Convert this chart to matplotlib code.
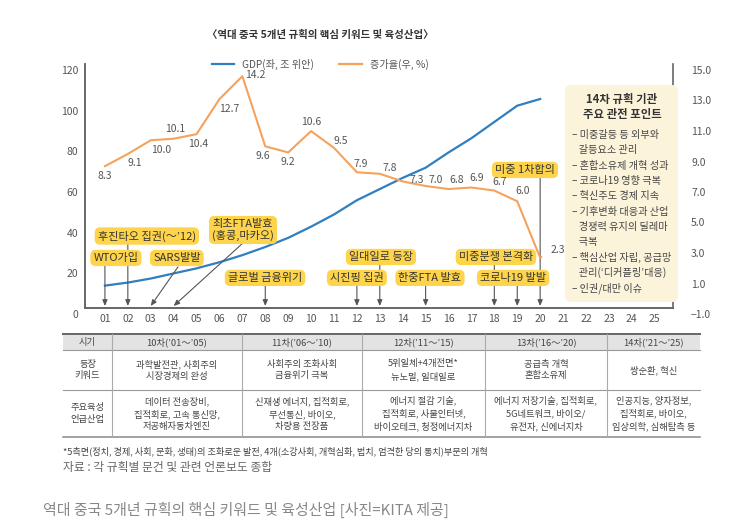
import matplotlib.pyplot as plt
import matplotlib.transforms as mtransforms
from matplotlib.patches import FancyBboxPatch, Rectangle
from matplotlib.lines import Line2D

plt.rcParams['font.family'] = ['Noto Sans CJK KR', 'DejaVu Sans']

# --- data ---
years = list(range(1, 26))
year_labels = ['%02d' % y for y in years]

gdp_years = list(range(1, 21))
gdp = [11.0, 12.5, 14.5, 17.0, 19.5, 22.5, 26.0, 30.0, 34.5, 40.0,
       46.0, 53.0, 58.5, 64.0, 69.0, 76.5, 83.5, 91.5, 99.5, 102.8]
growth = [8.3, 9.1, 10.0, 10.1, 10.4, 12.7, 14.2, 9.6, 9.2, 10.6,
          9.5, 7.9, 7.8, 7.3, 7.0, 6.8, 6.9, 6.7, 6.0, 2.3]

events = ['WTO가입', '후진타오 집권(～’12)', 'SARS발발', '최초FTA발효\n(홍콩,마카오)',
          '글로벌 금융위기', '시진핑 집권', '일대일로 등장', '한중FTA 발효',
          '미중분쟁 본격화', '코로나19 발발', '미중 1차합의']
event_years = [1, 2, 3, 4, 8, 12, 13, 15, 18, 19, 20]

box_title = '14차 규획 기관\n주요 관전 포인트'
box_lines = ['– 미중갈등 등 외부와', '   갈등요소 관리', '– 혼합소유제 개혁 성과', '– 코로나19 영향 극복',
             '– 혁신주도 경제 지속', '– 기후변화 대응과 산업', '   경쟁력 유지의 딜레마', '   극복',
             '– 핵심산업 자립, 공급망', '   관리(‘디커플링’대응)', '– 인권/대만 이슈']

table_header = ['시기', '10차(’01～’05)', '11차(’06～’10)', '12차(’11～’15)', '13차(’16～’20)', '14차(’21～’25)']
table_keywords = ['등장\n키워드', '과학발전관, 사회주의\n시장경제의 완성', '사회주의 조화사회\n금융위기 극복',
                  '5위일체+4개전면*\n뉴노멀, 일대일로', '공급측 개혁\n혼합소유제', '쌍순환, 혁신']
table_industry = ['주요육성\n언급산업', '데이터 전송장비,\n집적회로, 고속 통신망,\n저공해자동차엔진',
                  '신재생 에너지, 집적회로,\n무선통신, 바이오,\n차량용 전장품',
                  '에너지 절감 기술,\n집적회로, 사물인터넷,\n바이오테크, 청정에너지차',
                  '에너지 저장기술, 집적회로,\n5G네트워크, 바이오/\n유전자, 신에너지차',
                  '인공지능, 양자정보,\n집적회로, 바이오,\n임상의학, 심해탐측 등']

# --- layout (pixels in a 743x530 figure) ---
W, H = 743, 530
blue = '#2F7FC1'
orange = '#F5A25D'
yellow = '#FDD44B'
grey = '#555555'

# box centres and arrow starts, in (year index, GDP axis value)
box_pos = [(1.48, 24.6), (2.83, 35.4), (4.14, 24.6), (7.03, 38.4), (7.99, 14.8), (12.0, 14.8),
           (13.05, 25.1), (15.19, 14.8), (18.07, 25.1), (18.82, 14.8), (19.34, 67.9)]
arrow_from = [(1, 20.7), (2, 32), (4.19, 20.2), (6.98, 31.5), (8, 10.8), (12, 10.8),
              (13, 21.6), (15, 10.8), (18, 21.6), (19, 10.8), (20, 64.4)]
label_off = [(0, -10), (7, -9), (10, -10), (1, 10), (2, -10), (10, -10), (13, 1), (-2, -10),
             (0, -10), (0, 9), (7, 7), (4, 8), (10, 6), (14, 1), (10, 6), (8, 9), (5, 10), (5, 9), (5, 10)]

fig = plt.figure(figsize=(W / 100, H / 100), dpi=100)
ax = fig.add_axes([85 / W, 1 - 308 / H, (673 - 85) / W, (308 - 64) / H])
ax2 = ax.twinx()

ax.set_xlim(0.13, 25.8)
ax.set_ylim(0, 120)
ax2.set_ylim(-1, 15)
ax.set_yticks(range(0, 121, 20))
ax2.set_yticks(range(-1, 16, 2))
ax2.set_yticklabels(['%.1f' % v if v >= 0 else '−%.1f' % -v for v in range(-1, 16, 2)])
ax.set_xticks(years)
ax.set_xticklabels(year_labels)

for a in (ax, ax2):
    for s in a.spines.values():
        s.set_color('#666')
        s.set_linewidth(1.2)
    a.spines['top'].set_visible(False)
    a.tick_params(length=0, labelsize=7.5, labelcolor='#555')
ax.spines['right'].set_visible(False)
ax.tick_params(axis='y', pad=5)
ax.tick_params(axis='x', pad=4)
ax2.tick_params(axis='y', pad=13)
shift = mtransforms.ScaledTranslation(0, -0.06, fig.dpi_scale_trans)
for lab in ax.get_yticklabels() + ax2.get_yticklabels():
    lab.set_transform(lab.get_transform() + shift)

ax.plot(gdp_years, gdp, color=blue, lw=1.6, zorder=3)
ax2.plot(gdp_years, growth, color=orange, lw=1.5, zorder=3)

for i, v in enumerate(growth[:-1]):
    ax2.annotate('%.1f' % v, (gdp_years[i], v), xytext=label_off[i], textcoords='offset pixels',
                 ha='center', va='center', fontsize=7.5, color='#555')
ax2.annotate('%.1f' % growth[-1], (gdp_years[-1], growth[-1]), xytext=(18, 8), textcoords='offset pixels',
             ha='center', va='center', fontsize=7.5, color='#555',
             arrowprops=dict(arrowstyle='-', ls=':', color='#777', lw=0.8, shrinkA=5, shrinkB=1))

# event boxes with arrows to the year axis
for name, yr, (bx, by), (sx, sy) in zip(events, event_years, box_pos, arrow_from):
    ax.annotate('', xy=(yr, 1.0), xytext=(sx, sy),
                arrowprops=dict(arrowstyle='-|>,head_length=0.35,head_width=0.15', color=grey,
                                lw=0.8, shrinkA=0, shrinkB=0), zorder=4)
    ax.text(bx, by, name, ha='center', va='center', fontsize=8, color='#333', linespacing=1.1,
            zorder=5, bbox=dict(boxstyle='round,pad=0.28,rounding_size=0.5', fc=yellow, ec='none'))

handles = [Line2D([], [], color=blue, lw=1.6), Line2D([], [], color=orange, lw=1.6)]
ax2.legend(handles, ['GDP(좌, 조 위안)', '증가율(우, %)'], loc='center', ncol=2, frameon=False,
           fontsize=7.3, handlelength=2.2, columnspacing=2.5, labelcolor='#555',
           bbox_to_anchor=(320 / W, 1 - 64 / H), bbox_transform=fig.transFigure)

# overlay in figure pixels: title, side box, table, notes
lay = fig.add_axes([0, 0, 1, 1])
lay.set_xlim(0, W)
lay.set_ylim(H, 0)
lay.axis('off')

lay.text(320, 35, '〈역대 중국 5개년 규획의 핵심 키워드 및 육성산업〉', ha='center', va='center',
         fontsize=7.5, fontweight='bold', color='#333')

lay.add_patch(FancyBboxPatch((565, 85), 113, 217, boxstyle='round,pad=0,rounding_size=6',
                             fc='#FCF3DB', ec='none'))
lay.text(622, 107, box_title, ha='center', va='center', fontsize=8.2, fontweight='bold',
         color='#333', linespacing=1.2)
for i, line in enumerate(box_lines):
    lay.text(572, 135 + i * 15.3, line, ha='left', va='center', fontsize=7.3, color='#444')

cols = [63, 112, 242, 362, 485, 607, 700]
rows = [334, 350, 390, 437]
lay.add_patch(Rectangle((cols[0], rows[0]), cols[-1] - cols[0], rows[1] - rows[0], fc='#E3E3E3', ec='none'))
lay.plot([cols[0], cols[-1]], [rows[0], rows[0]], color='#666', lw=1.4)
lay.plot([cols[0], cols[-1]], [rows[1], rows[1]], color='#999', lw=0.8)
lay.plot([cols[0], cols[-1]], [rows[2], rows[2]], color='#999', lw=0.8)
lay.plot([cols[0], cols[-1]], [rows[3], rows[3]], color='#888', lw=1.1)
for c in cols[1:-1]:
    lay.plot([c, c], [rows[0], rows[3]], color='#AAA', lw=0.8)
for r, cells in enumerate([table_header, table_keywords, table_industry]):
    yc = (rows[r] + rows[r + 1]) / 2
    for c, txt in enumerate(cells):
        xc = (cols[c] + cols[c + 1]) / 2
        lay.text(xc, yc, txt, ha='center', va='center', fontsize=6.7, color='#444', linespacing=1.4)

lay.text(63, 451, '*5측면(정치, 경제, 사회, 문화, 생태)의 조화로운 발전, 4개(소강사회, 개혁심화, 법치, 엄격한 당의 통치)부문의 개혁',
         ha='left', va='center', fontsize=6.6, color='#444')
lay.text(63, 468, '자료 : 각 규획별 문건 및 관련 언론보도 종합', ha='left', va='center', fontsize=8.5, color='#666')
lay.text(43, 510, '역대 중국 5개년 규획의 핵심 키워드 및 육성산업 [사진=KITA 제공]', ha='left', va='center',
         fontsize=10.8, color='#888')

fig.savefig('out.png', dpi=100)
